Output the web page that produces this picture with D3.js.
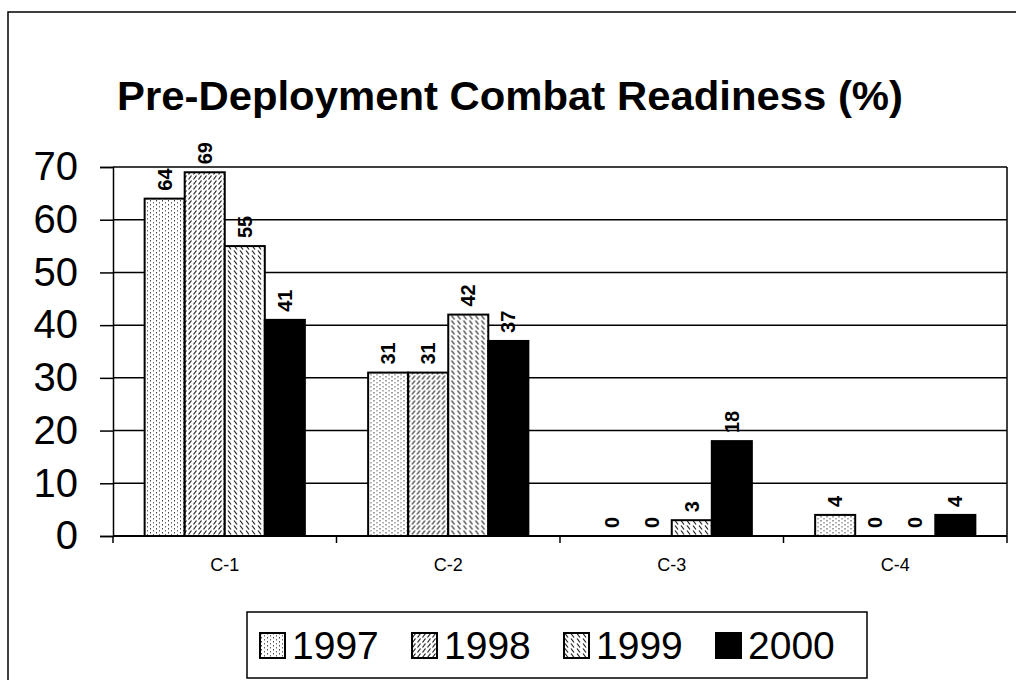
<!DOCTYPE html>
<html>
<head>
<meta charset="utf-8">
<script src="https://cdn.jsdelivr.net/npm/d3@7"></script>
<style>
  body { margin: 0; background: #fff; }
  svg text { font-family: "Liberation Sans", Arial, sans-serif; fill: #000; }
</style>
</head>
<body>
<div class="chart"></div>
<script>
var CATEGORIES = ["C-1", "C-2", "C-3", "C-4"];
var YEARS = ["1997", "1998", "1999", "2000"];
var VALUES_1997 = [64, 31, 0, 4];
var VALUES_1998 = [69, 31, 0, 0];
var VALUES_1999 = [55, 42, 3, 0];
var VALUES_2000 = [41, 37, 18, 4];
var Y_TICKS = [0, 10, 20, 30, 40, 50, 60, 70];

var SERIES = [VALUES_1997, VALUES_1998, VALUES_1999, VALUES_2000];
var FILLS = ["url(#p1997)", "url(#p1998)", "url(#p1999)", "#000"];

var W = 1016, H = 680;
var plot = {left: 113, right: 1007, top: 167, bottom: 536};

var svg = d3.select(".chart").append("svg")
  .attr("width", W)
  .attr("height", H);

// hatch patterns, roughly like the printed fills
var defs = svg.append("defs");

var p1 = defs.append("pattern").attr("id", "p1997")
  .attr("patternUnits", "userSpaceOnUse").attr("width", 6).attr("height", 4);
p1.append("rect").attr("width", 6).attr("height", 4).attr("fill", "#fff");
p1.append("rect").attr("x", 1).attr("y", 0).attr("width", 1).attr("height", 1.5).attr("fill", "#444");
p1.append("rect").attr("x", 4).attr("y", 2).attr("width", 1).attr("height", 1.5).attr("fill", "#666");

var p2 = defs.append("pattern").attr("id", "p1998")
  .attr("patternUnits", "userSpaceOnUse").attr("width", 5).attr("height", 5);
p2.append("rect").attr("width", 5).attr("height", 5).attr("fill", "#fff");
p2.append("path").attr("d", "M0.5,4.5 L3.5,0.5").attr("stroke", "#222").attr("stroke-width", 1.2);

var p3 = defs.append("pattern").attr("id", "p1999")
  .attr("patternUnits", "userSpaceOnUse").attr("width", 6).attr("height", 5);
p3.append("rect").attr("width", 6).attr("height", 5).attr("fill", "#fff");
p3.append("path").attr("d", "M1,0.5 L4,4.5").attr("stroke", "#222").attr("stroke-width", 1.2);

// outer frame (right and bottom run off the page)
svg.append("rect")
  .attr("x", 8).attr("y", 12)
  .attr("width", W + 20).attr("height", H + 20)
  .attr("fill", "none").attr("stroke", "#000").attr("stroke-width", 1.5);

// title
svg.append("text")
  .attr("x", 510).attr("y", 110)
  .attr("text-anchor", "middle")
  .style("font-size", "41px")
  .style("font-weight", "bold")
  .attr("textLength", 786)
  .attr("lengthAdjust", "spacingAndGlyphs")
  .text("Pre-Deployment Combat Readiness (%)");

var x0 = d3.scaleBand().domain(CATEGORIES).range([plot.left, plot.right]);
var x1 = d3.scaleBand().domain(YEARS).range([0, x0.bandwidth()]).paddingOuter(0.79);
var y = d3.scaleLinear().domain([0, 70]).range([plot.bottom, plot.top]);

// gridlines
svg.append("g")
  .selectAll("line")
  .data(Y_TICKS.filter(function (d) { return d > 0; }))
  .enter().append("line")
  .attr("x1", plot.left).attr("x2", plot.right)
  .attr("y1", function (d) { return y(d); })
  .attr("y2", function (d) { return y(d); })
  .attr("stroke", "#000").attr("stroke-width", 1.5);

// right border
svg.append("line")
  .attr("x1", plot.right).attr("x2", plot.right)
  .attr("y1", plot.top).attr("y2", plot.bottom)
  .attr("stroke", "#000").attr("stroke-width", 1.5);

// bars
var groups = svg.append("g").selectAll("g")
  .data(CATEGORIES)
  .enter().append("g")
  .attr("transform", function (d) { return "translate(" + x0(d) + ",0)"; });

groups.each(function (cat, ci) {
  var g = d3.select(this);
  YEARS.forEach(function (yr, si) {
    var v = SERIES[si][ci];
    if (v > 0) {
      g.append("rect")
        .attr("x", x1(yr))
        .attr("y", y(v))
        .attr("width", x1.bandwidth())
        .attr("height", y(0) - y(v))
        .attr("fill", FILLS[si])
        .attr("stroke", "#000")
        .attr("stroke-width", 2);
    }
    var cx = x1(yr) + x1.bandwidth() / 2 + 7;
    var ty = y(v) - 8;
    g.append("text")
      .attr("transform", "translate(" + cx + "," + ty + ") rotate(-90)")
      .style("font-size", "20px")
      .style("font-weight", "bold")
      .text(v);
  });
});

// y axis
var yAxis = svg.append("g")
  .attr("transform", "translate(" + plot.left + ",0)")
  .call(d3.axisLeft(y).tickValues(Y_TICKS).tickSize(13).tickPadding(22));
yAxis.select(".domain").attr("stroke-width", 1.5);
yAxis.selectAll(".tick line").attr("stroke-width", 1.5);
yAxis.selectAll(".tick text")
  .style("font-size", "40px")
  .style("font-family", "\"Liberation Sans\", Arial, sans-serif")
  .attr("fill", "#000");

// x axis
var xAxis = svg.append("g")
  .attr("transform", "translate(0," + plot.bottom + ")")
  .call(d3.axisBottom(x0).tickSize(0).tickPadding(22));
xAxis.select(".domain").attr("stroke-width", 2).attr("d", "M" + plot.left + ",0H" + plot.right);
xAxis.selectAll(".tick text")
  .style("font-size", "18px")
  .style("font-family", "\"Liberation Sans\", Arial, sans-serif")
  .attr("fill", "#000");

// category boundary ticks
svg.append("g").selectAll("line")
  .data(CATEGORIES.concat(["end"]))
  .enter().append("line")
  .attr("x1", function (d, i) { return i < CATEGORIES.length ? x0(d) : plot.right; })
  .attr("x2", function (d, i) { return i < CATEGORIES.length ? x0(d) : plot.right; })
  .attr("y1", plot.bottom).attr("y2", plot.bottom + 7)
  .attr("stroke", "#000").attr("stroke-width", 1.5);

// legend
var legend = svg.append("g");
legend.append("rect")
  .attr("x", 247).attr("y", 612)
  .attr("width", 620).attr("height", 66)
  .attr("fill", "#fff").attr("stroke", "#000").attr("stroke-width", 1.5);

var items = legend.selectAll("g.item")
  .data(YEARS)
  .enter().append("g")
  .attr("class", "item")
  .attr("transform", function (d, i) { return "translate(" + (260 + i * 152) + ",633)"; });

items.append("rect")
  .attr("width", 25).attr("height", 25)
  .attr("fill", function (d, i) { return FILLS[i]; })
  .attr("stroke", "#000").attr("stroke-width", 2);

items.append("text")
  .attr("x", 32).attr("y", 26)
  .style("font-size", "39px")
  .text(function (d) { return d; });
</script>
</body>
</html>
